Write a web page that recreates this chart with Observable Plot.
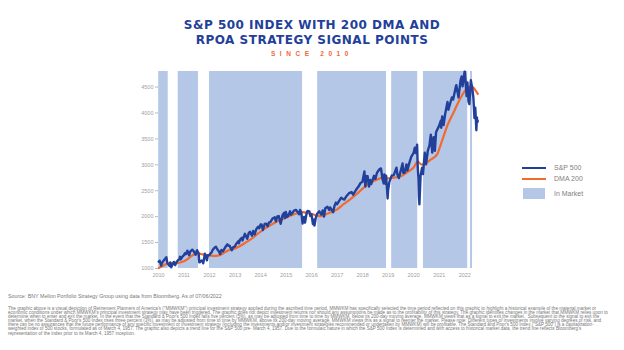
<!DOCTYPE html>
<html>
<head>
<meta charset="utf-8">
<script src="https://cdn.jsdelivr.net/npm/d3@7"></script>
<script src="https://cdn.jsdelivr.net/npm/@observablehq/plot@0.6"></script>
<style>
  html, body { margin: 0; padding: 0; background: #fff; }
  #wrap { position: relative; width: 624px; height: 350px; overflow: hidden; font-family: "Liberation Sans", Arial, sans-serif; }
  .t1, .t2 { position: absolute; left: 0; width: 624px; text-align: center; font-family: "DejaVu Sans", sans-serif; font-weight: bold; font-size: 12px; line-height: 12px; color: #22409a; letter-spacing: 0.5px; }
  .t3 { position: absolute; left: 0; width: 624px; text-align: center; font-size: 6.5px; line-height: 7px; color: #f0683a; letter-spacing: 4.6px; font-weight: bold; }
  #chart { position: absolute; left: 0; top: 60px; }
  .leg { position: absolute; }
  .legtxt { position: absolute; left: 554px; font-size: 7px; line-height: 8px; color: #7f7f7f; }
  .src { position: absolute; left: 8px; top: 293px; font-size: 5.3px; line-height: 6px; color: #777; white-space: nowrap; }
  .para { position: absolute; left: 8px; top: 307px; font-size: 4.58px; line-height: 4.1px; color: #777; white-space: nowrap; }
</style>
</head>
<body>
<div id="wrap">
  <div class="t1" style="top:19px">S&amp;P 500 INDEX WITH 200 DMA AND</div>
  <div class="t2" style="top:34px">RPOA STRATEGY SIGNAL POINTS</div>
  <div class="t3" style="top:49.5px">SINCE 2010</div>
  <div id="chart"></div>
  <div class="leg" style="left:522px; top:167px; width:24px; height:2px; background:#22409a"></div>
  <div class="leg" style="left:522px; top:178px; width:24px; height:2px; background:#f26a2e"></div>
  <div class="leg" style="left:523px; top:188px; width:22px; height:11px; background:#b4c7e7"></div>
  <div class="legtxt" style="top:164px">S&amp;P 500</div>
  <div class="legtxt" style="top:175px">DMA 200</div>
  <div class="legtxt" style="top:190px">In Market</div>
  <div class="src">Source: BNY Mellon Portfolio Strategy Group using data from Bloomberg. As of 07/06/2022</div>
  <div class="para">
    <div>The graphic above is a visual depiction of Retirement Planners of America's ("MMWKM") principal investment strategy applied during the ascribed time period. MMWKM has specifically selected the time period reflected on this graphic to highlight a historical example of the material market or</div>
    <div>economic conditions under which MMWKM's principal investment strategy may have been triggered. The graphic does not depict investment returns nor should any assumptions be made as to the profitability of this strategy. The graphic identifies changes in the market that MMWKM relies upon to</div>
    <div>determine when to enter and exit the market. In the event that the Standard &amp; Poor's 500 Index falls five percent (5%), as may be adjusted from time to time by MMWKM, below its 200-day moving average, MMWKM views that as a signal to exit the market.&nbsp; Subsequent to the signal to exit the</div>
    <div>market, when the Standard &amp; Poor's 500 Index rises three percent (3%), as may be adjusted from time to time by MMWKM, above its 200-day moving average, MMWKM views this as a signal to reenter the market. Please note: Different types of investments involve varying degrees of risk, and</div>
    <div>there can be no assurances that the future performance of any specific investment or investment strategy (including the investments and/or investment strategies recommended or undertaken by MMWKM) will be profitable. The Standard and Poor's 500 Index ("S&amp;P 500") is a capitalization-</div>
    <div>weighted index of 500 stocks, formulated as of March 4, 1957. The graphic also depicts a trend line for the S&amp;P 500 pre- March 4, 1957. Due to the formulaic nature in which the S&amp;P 500 Index is determined and with access to historical market data, the trend line reflects Bloomberg's</div>
    <div>representation of the index prior to its March 4, 1957 inception.</div>
  </div>
</div>
<script>
// ---- DATA ----
const spxDates = [
"2010-01-04","2010-01-19","2010-02-08","2010-02-22","2010-03-08","2010-03-22","2010-04-05","2010-04-23","2010-05-07","2010-05-25","2010-06-07","2010-06-18","2010-07-02","2010-07-19","2010-08-09","2010-08-27","2010-09-10","2010-09-27","2010-10-11","2010-10-29","2010-11-05","2010-11-16","2010-12-06","2010-12-31",
"2011-01-14","2011-01-28","2011-02-18","2011-03-16","2011-03-31","2011-04-29","2011-05-20","2011-06-15","2011-07-07","2011-07-29","2011-08-08","2011-08-19","2011-09-09","2011-09-30","2011-10-03","2011-10-27","2011-11-25","2011-12-09","2011-12-30",
"2012-01-13","2012-01-31","2012-02-17","2012-03-16","2012-04-02","2012-04-23","2012-05-15","2012-06-01","2012-06-19","2012-07-12","2012-07-31","2012-08-17","2012-09-14","2012-09-28","2012-10-15","2012-11-15","2012-12-03","2012-12-31",
"2013-01-15","2013-01-31","2013-02-19","2013-02-25","2013-03-15","2013-04-11","2013-04-18","2013-05-21","2013-06-24","2013-07-15","2013-08-02","2013-08-30","2013-09-18","2013-10-08","2013-10-31","2013-11-27","2013-12-13","2013-12-31",
"2014-01-15","2014-02-03","2014-02-28","2014-03-21","2014-04-11","2014-04-30","2014-05-23","2014-06-20","2014-07-24","2014-08-07","2014-08-29","2014-09-18","2014-10-15","2014-11-14","2014-12-05","2014-12-16","2014-12-29",
"2015-01-15","2015-02-02","2015-02-27","2015-03-11","2015-03-31","2015-04-24","2015-05-21","2015-06-12","2015-07-08","2015-07-20","2015-08-07","2015-08-25","2015-09-16","2015-09-29","2015-10-23","2015-11-03","2015-12-01","2015-12-14","2015-12-31",
"2016-01-20","2016-02-01","2016-02-11","2016-03-01","2016-03-18","2016-04-20","2016-05-19","2016-06-08","2016-06-27","2016-07-15","2016-08-15","2016-09-09","2016-09-22","2016-10-14","2016-11-04","2016-11-25","2016-12-13","2016-12-30",
"2017-01-26","2017-02-28","2017-03-27","2017-04-13","2017-05-16","2017-06-19","2017-07-27","2017-08-18","2017-09-29","2017-10-31","2017-11-30","2017-12-29",
"2018-01-26","2018-02-08","2018-02-26","2018-03-12","2018-04-02","2018-04-18","2018-05-03","2018-06-12","2018-07-02","2018-07-25","2018-08-29","2018-09-20","2018-10-11","2018-10-29","2018-11-07","2018-11-23","2018-12-03","2018-12-24","2018-12-31",
"2019-01-18","2019-02-22","2019-03-22","2019-04-30","2019-05-13","2019-06-03","2019-07-26","2019-08-05","2019-08-23","2019-09-19","2019-10-02","2019-10-31","2019-11-27","2019-12-31",
"2020-01-17","2020-01-31","2020-02-19","2020-02-28","2020-03-09","2020-03-16","2020-03-23","2020-04-09","2020-04-29","2020-05-13","2020-06-08","2020-06-26","2020-07-22","2020-08-14","2020-09-02","2020-09-23","2020-10-12","2020-10-30","2020-11-16","2020-12-31",
"2021-01-25","2021-01-29","2021-02-12","2021-03-04","2021-03-26","2021-04-29","2021-05-12","2021-06-30","2021-07-19","2021-08-27","2021-09-02","2021-10-04","2021-11-02","2021-11-18","2021-12-01","2021-12-29",
"2022-01-03","2022-01-27","2022-02-09","2022-02-23","2022-03-08","2022-03-29","2022-04-20","2022-05-04","2022-05-20","2022-06-01","2022-06-16","2022-06-24","2022-07-01","2022-07-06"
];
const spxValues = [
1133,1150,1056,1108,1138,1165,1187,1217,1110,1074,1050,1117,1022,1071,1127,1064,1110,1143,1165,1183,1225,1178,1223,1257,
1293,1276,1343,1257,1325,1363,1333,1265,1353,1292,1119,1123,1154,1131,1099,1284,1158,1255,1257,
1289,1312,1361,1404,1419,1366,1330,1278,1357,1334,1379,1418,1466,1440,1440,1353,1409,1426,
1472,1498,1530,1488,1561,1593,1541,1669,1573,1682,1710,1633,1725,1656,1757,1807,1775,1848,
1848,1742,1859,1866,1815,1884,1900,1963,1988,1910,2003,2011,1862,2039,2075,1972,2090,
1992,2020,2104,2040,2068,2117,2131,2094,2046,2128,2078,1867,1996,1884,2075,2109,2102,2012,2044,
1859,1940,1829,1978,2050,2102,2040,2119,2001,2162,2191,2128,2177,2133,2085,2213,2271,2239,
2297,2364,2342,2329,2400,2453,2475,2425,2519,2575,2648,2674,
2873,2581,2780,2783,2582,2708,2630,2787,2726,2846,2914,2931,2729,2641,2814,2633,2790,2351,2507,
2671,2793,2801,2946,2812,2744,3026,2844,2847,3006,2888,3038,3154,3231,
3330,3226,3386,2954,2747,2386,2237,2790,2940,2820,3232,3009,3276,3373,3580,3237,3534,3270,3627,3756,
3855,3714,3934,3768,3975,4211,4063,4298,4258,4509,4537,4300,4631,4705,4513,4793,
4797,4326,4587,4225,4171,4632,4460,4300,3901,4101,3667,3912,3825,3845
];
const dmaDates = [
"2010-01-04","2010-03-01","2010-05-10","2010-07-01","2010-09-01","2010-10-20","2011-01-01","2011-02-20","2011-04-15","2011-06-01","2011-07-25","2011-09-01","2011-11-01",
"2012-01-15","2012-04-01","2012-06-01","2012-08-01","2012-10-15","2013-01-01","2013-03-01","2013-06-01","2013-09-01","2013-12-01",
"2014-03-01","2014-06-01","2014-09-01","2014-12-01","2015-03-01","2015-06-01","2015-09-01","2015-11-15",
"2016-01-15","2016-03-15","2016-05-15","2016-07-15","2016-10-15","2017-01-01","2017-04-01","2017-07-01","2017-10-01",
"2018-01-01","2018-04-01","2018-07-01","2018-10-01","2018-12-31","2019-03-01","2019-06-01","2019-08-01","2019-10-01",
"2020-01-01","2020-03-01","2020-04-20","2020-06-01","2020-09-01","2020-12-01","2021-02-01","2021-05-01","2021-08-01","2021-11-01",
"2022-02-01","2022-04-15","2022-06-01","2022-07-06"
];
const dmaValues = [
1010,1050,1095,1105,1100,1110,1140,1180,1240,1275,1290,1280,1262,
1250,1245,1262,1310,1360,1388,1425,1500,1580,1680,
1770,1845,1910,1965,2020,2062,2088,2065,
2050,2015,2012,2040,2090,2140,2240,2330,2430,
2540,2640,2700,2750,2740,2750,2770,2800,2860,
2950,3060,3005,3015,3100,3200,3430,3770,4030,4290,
4470,4510,4440,4370
];
const bandStarts = ["2010-01-04","2010-10-10","2012-01-01","2016-03-28","2019-02-20","2020-05-20","2022-03-25"];
const bandEnds   = ["2010-05-20","2011-07-27","2015-08-25","2018-12-08","2020-02-28","2022-02-12","2022-04-22"];
const yearTicks = [2010,2011,2012,2013,2014,2015,2016,2017,2018,2019,2020,2021,2022];
const yTicks = [1000,1500,2000,2500,3000,3500,4000,4500];
const yMin = 1000, yMax = 4800;

// ---- BUILD ----
const parse = s => new Date(s + "T00:00:00Z");
const spx = spxDates.map((d, i) => ({date: parse(d), value: spxValues[i]}));
const dma = dmaDates.map((d, i) => ({date: parse(d), value: dmaValues[i]}));
const bands = bandStarts.map((d, i) => ({x1: parse(d), x2: parse(bandEnds[i]), y1: yMin, y2: yMax}));
const xTicks = yearTicks.map(y => new Date(Date.UTC(y, 0, 1)));

const chart = Plot.plot({
  width: 624,
  height: 225,
  marginLeft: 158,
  marginRight: 145,
  marginTop: 11,
  marginBottom: 17,
  style: {background: "transparent", fontFamily: "Liberation Sans, Arial, sans-serif", fontSize: "5.5px", color: "#a0a0a0"},
  x: {type: "utc", domain: [parse("2010-01-01"), parse("2022-07-31")]},
  y: {domain: [yMin, yMax]},
  marks: [
    Plot.rect(bands, {x1: "x1", x2: "x2", y1: "y1", y2: "y2", fill: "#b4c7e7"}),
    Plot.line(dma, {x: "date", y: "value", stroke: "#f26a2e", strokeWidth: 2.2, curve: "monotone-x"}),
    Plot.line(spx, {x: "date", y: "value", stroke: "#22409a", strokeWidth: 2.4, strokeLinejoin: "round"}),
    Plot.axisY({ticks: yTicks, tickSize: 3, tickPadding: 2, label: null, stroke: "#bbb", fill: "#a0a0a0", tickFormat: d => String(d)}),
    Plot.axisX({ticks: xTicks, tickSize: 0, tickPadding: 5, label: null, fill: "#a0a0a0", tickFormat: d => String(d.getUTCFullYear())})
  ]
});
document.getElementById("chart").appendChild(chart);
</script>
</body>
</html>
